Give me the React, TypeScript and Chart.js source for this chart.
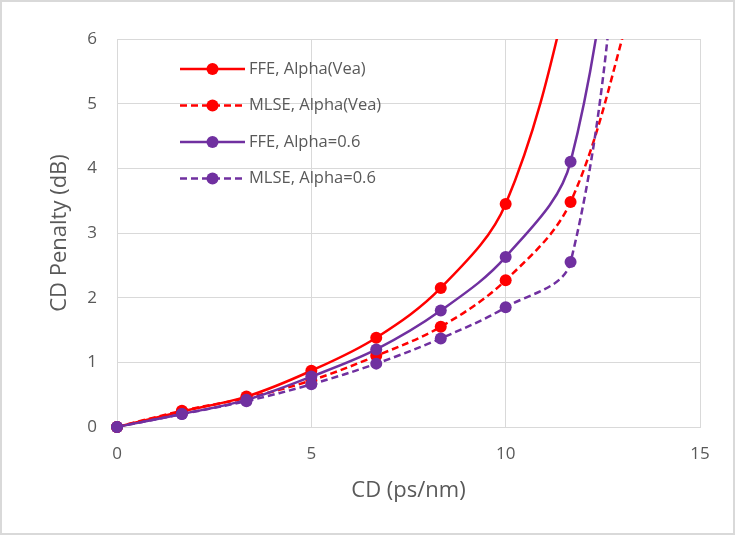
import React, { useEffect, useRef } from "react";
import { Chart, registerables } from "chart.js";

Chart.register(...registerables);

const cdValues = [0, 1.67, 3.33, 5, 6.67, 8.33, 10, 11.67, 13.33];
const ffeVea = [0, 0.24, 0.47, 0.87, 1.38, 2.15, 3.45, 6.9, 12];
const mlseVea = [0, 0.25, 0.45, 0.72, 1.1, 1.55, 2.27, 3.48, 6.7];
const ffe06 = [0, 0.2, 0.42, 0.78, 1.2, 1.8, 2.63, 4.1, 10.5];
const mlse06 = [0, 0.2, 0.4, 0.66, 0.98, 1.37, 1.85, 2.55, 10];
const seriesLabels = ["FFE, Alpha(Vea)", "MLSE, Alpha(Vea)", "FFE, Alpha=0.6", "MLSE, Alpha=0.6"];
const seriesValues = [ffeVea, mlseVea, ffe06, mlse06];
const seriesColors = ["#ff0000", "#ff0000", "#7030a0", "#7030a0"];
const seriesDashed = [false, true, false, true];
const xTicks = [0, 5, 10, 15];
const yTicks = [0, 1, 2, 3, 4, 5, 6];

const FONT = "'Open Sans', 'Liberation Sans', sans-serif";
const TEXT = "#595959";
const GRID = "#d9d9d9";

const legendPlugin = {
  id: "insideLegend",
  afterDatasetsDraw(chart: any) {
    const { ctx, chartArea } = chart;
    ctx.save();
    chart.data.datasets.forEach((ds: any, i: number) => {
      const y = chartArea.top + 30 + i * 36.5;
      const x0 = chartArea.left + 63;
      const x1 = chartArea.left + 128;
      ctx.strokeStyle = ds.borderColor;
      ctx.lineWidth = ds.borderWidth;
      ctx.setLineDash(ds.borderDash || []);
      ctx.beginPath();
      ctx.moveTo(x0, y);
      ctx.lineTo(x1, y);
      ctx.stroke();
      ctx.setLineDash([]);
      ctx.fillStyle = ds.borderColor;
      ctx.beginPath();
      ctx.arc((x0 + x1) / 2, y, ds.pointRadius, 0, Math.PI * 2);
      ctx.fill();
      ctx.fillStyle = TEXT;
      ctx.font = `16.5px ${FONT}`;
      ctx.textAlign = "left";
      ctx.textBaseline = "middle";
      ctx.fillText(ds.label, x1 + 4, y);
    });
    ctx.restore();
  },
};

export default function App() {
  const ref = useRef<HTMLCanvasElement>(null);
  useEffect(() => {
    if (!ref.current) return;
    const datasets = seriesLabels.map((label, i) => ({
      label,
      data: cdValues.map((x, j) => ({ x, y: seriesValues[i][j] })),
      borderColor: seriesColors[i],
      backgroundColor: seriesColors[i],
      borderWidth: 2.5,
      borderDash: seriesDashed[i] ? [7, 4] : [],
      pointRadius: 6,
      pointBorderWidth: 0,
      pointBackgroundColor: seriesColors[i],
      tension: 0.35,
      fill: false,
      clip: { left: 10, bottom: 10, right: 10, top: 0 },
      order: seriesLabels.length - i,
    }));
    const chart = new Chart(ref.current, {
      type: "line",
      data: { datasets },
      plugins: [legendPlugin],
      options: {
        responsive: false,
        animation: false,
        devicePixelRatio: 1,
        layout: { padding: { top: 39, right: 35, left: 0, bottom: 0 } },
        elements: { line: { capBezierPoints: false } as any },
        plugins: { legend: { display: false }, tooltip: { enabled: false } },
        scales: {
          x: {
            type: "linear",
            min: 0,
            max: 15,
            afterFit: (s: any) => { s.height = 110; },
            afterBuildTicks: (s: any) => { s.ticks = xTicks.map((v) => ({ value: v })); },
            ticks: { color: TEXT, font: { family: FONT, size: 17 }, padding: 17 },
            grid: { color: GRID, lineWidth: 1, drawTicks: false },
            border: { color: GRID, width: 1 },
            title: {
              display: true,
              text: "CD (ps/nm)",
              color: TEXT,
              font: { family: FONT, size: 22 },
              padding: { top: 0, bottom: 33 },
            },
          },
          y: {
            type: "linear",
            min: 0,
            max: 6,
            afterFit: (s: any) => { s.width = 117; },
            afterBuildTicks: (s: any) => { s.ticks = yTicks.map((v) => ({ value: v })); },
            ticks: { color: TEXT, font: { family: FONT, size: 17 }, padding: 20 },
            grid: { color: GRID, lineWidth: 1, drawTicks: false },
            border: { color: GRID, width: 1 },
            title: {
              display: true,
              text: "CD Penalty (dB)",
              color: TEXT,
              font: { family: FONT, size: 22 },
              padding: { top: 47, bottom: 0 },
            },
          },
        },
      },
    });
    return () => chart.destroy();
  }, []);
  return (
    <div style={{ position: "fixed", left: 0, top: 0, width: 735, height: 537, background: "#fff" }}>
      <canvas ref={ref} width={735} height={537} style={{ position: "absolute", left: 0, top: 0 }} />
      <div
        style={{
          position: "absolute",
          left: 0,
          top: 0,
          width: 735,
          height: 535,
          boxSizing: "border-box",
          border: "2px solid #d9d9d9",
          pointerEvents: "none",
        }}
      />
    </div>
  );
}
